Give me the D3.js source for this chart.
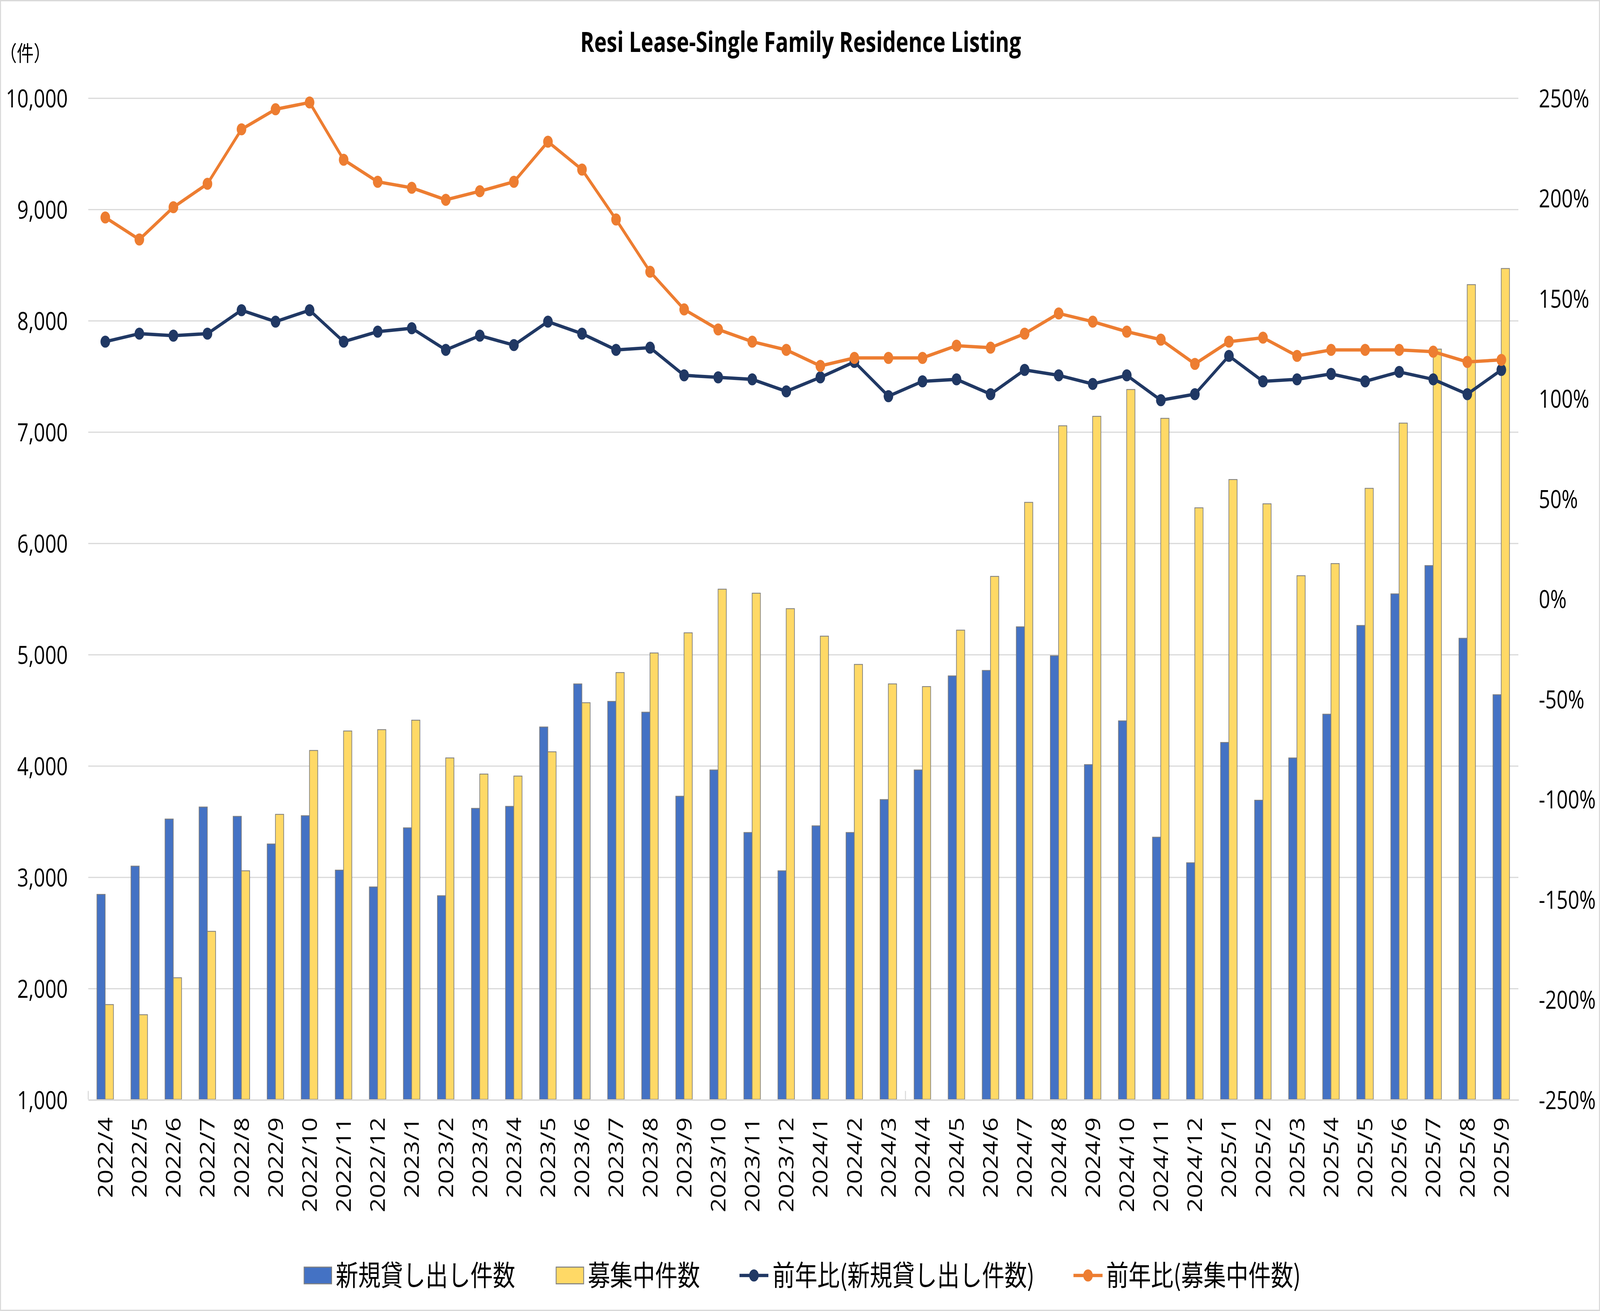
<!DOCTYPE html>
<html>
<head>
<meta charset="utf-8">
<title>Resi Lease-Single Family Residence Listing</title>
<script src="https://cdn.jsdelivr.net/npm/d3@7"></script>
<style>
html, body { margin: 0; padding: 0; background: #fff; overflow: hidden; }
svg { display: block; width: 100vw; height: 100vh; }
</style>
</head>
<body>
<script>
// 月 (2022/4 - 2025/9)
var months = ["2022/4","2022/5","2022/6","2022/7","2022/8","2022/9","2022/10","2022/11","2022/12",
  "2023/1","2023/2","2023/3","2023/4","2023/5","2023/6","2023/7","2023/8","2023/9","2023/10","2023/11","2023/12",
  "2024/1","2024/2","2024/3","2024/4","2024/5","2024/6","2024/7","2024/8","2024/9","2024/10","2024/11","2024/12",
  "2025/1","2025/2","2025/3","2025/4","2025/5","2025/6","2025/7","2025/8","2025/9"];

// 新規貸し出し件数 (左軸)
var newLeases = [2842,3096,3519,3627,3543,3295,3549,3060,2909,
  3440,2830,3615,3633,4346,4733,4576,4479,3724,3960,3398,3054,
  3458,3398,3694,3960,4805,4854,5246,4986,4008,4401,3356,3126,
  4207,3688,4068,4461,5258,5542,5796,5143,4636];

// 募集中件数 (左軸)
var listings = [1852,1761,2093,2510,3054,3561,4135,4310,4322,
  4407,4068,3923,3905,4123,4564,4835,5011,5192,5584,5548,5409,
  5162,4908,4733,4709,5216,5699,6364,7052,7137,7378,7119,6315,
  6569,6351,5705,5814,6490,7076,7741,8320,8465];

// 前年比(新規貸し出し件数) % (右軸)
var newLeasesYoY = [128.2,132.2,131.2,132.2,143.9,138.2,143.9,128.2,133.2,
  134.9,124.1,131.2,126.5,138.2,132.2,124.1,125.2,111.4,110.4,109.4,103.4,
  110.4,118.1,101.0,108.4,109.4,102.0,114.1,111.4,107.1,111.4,99.0,102.0,
  121.1,108.4,109.4,112.1,108.4,113.1,109.4,102.0,114.1];

// 前年比(募集中件数) % (右軸)
var listingsYoY = [190.2,179.2,195.3,207.0,234.2,244.2,247.6,219.0,208.0,
  205.0,199.0,203.3,208.0,228.0,214.1,189.2,163.1,144.3,134.3,128.2,124.1,
  116.1,120.1,120.1,120.1,126.2,125.2,132.2,142.3,138.2,133.2,129.2,117.1,
  128.2,130.2,121.1,124.1,124.1,124.1,123.2,118.1,119.1];

var leftTicks = [1000,2000,3000,4000,5000,6000,7000,8000,9000,10000];
var rightTicks = [-250,-200,-150,-100,-50,0,50,100,150,200,250];
var legendLabels = ["新規貸し出し件数","募集中件数","前年比(新規貸し出し件数)","前年比(募集中件数)"];

// 座標系は参照画像の縮小版 (1568幅) で組んで viewBox で拡大
var W = 1568, H = 1021.7;
var pLeft = 86.5, pRight = 1488, pTop = 76.1, pBottom = 856.8;
var latin = "'Open Sans', 'Noto Sans', sans-serif";
var cjk = "'Noto Sans CJK JP', 'Noto Sans', sans-serif";

var svg = d3.select("body").append("svg")
  .attr("viewBox", "0 0 " + W + " " + H)
  .attr("preserveAspectRatio", "none");

svg.append("rect").attr("x", 0.5).attr("y", 0.5).attr("width", W - 1).attr("height", H - 1)
  .attr("fill", "#fff").attr("stroke", "#d9d9d9").attr("stroke-width", 1);

// scales
var x = d3.scaleBand().domain(months).range([pLeft, pRight]).padding(0);
var inner = d3.scaleBand().domain(["a","b"]).range([-8.2, 8]);
var yL = d3.scaleLinear().domain([1000, 10000]).range([pBottom, pTop]);
var yR = d3.scaleLinear().domain([-250, 250]).range([pBottom, pTop]);
function cx(m){ return x(m) + x.bandwidth() / 2; }

// gridlines + left axis
var gL = svg.append("g").attr("transform", "translate(" + pLeft + ",0)")
  .call(d3.axisLeft(yL).tickValues(leftTicks).tickSize(-(pRight - pLeft)).tickPadding(20)
    .tickFormat(d3.format(",")));
gL.select(".domain").remove();
gL.selectAll(".tick line").attr("stroke", "#d9d9d9").attr("stroke-width", 0.9);
gL.selectAll(".tick text").attr("font-family", latin).attr("font-size", 19.5).attr("fill", "#000")
  .attr("dy", "0.36em");

// right axis
var gR = svg.append("g").attr("transform", "translate(" + pRight + ",0)")
  .call(d3.axisRight(yR).tickValues(rightTicks).tickSize(0).tickPadding(20)
    .tickFormat(function(d){ return d + "%"; }));
gR.select(".domain").remove();
gR.selectAll(".tick text").attr("font-family", latin).attr("font-size", 19.5).attr("fill", "#000")
  .attr("dy", "0.36em");

// bars
var bars = svg.append("g");
bars.selectAll("rect.nl").data(months).enter().append("rect")
  .attr("x", function(m){ return cx(m) + inner("a"); })
  .attr("width", inner.bandwidth())
  .attr("y", function(m, i){ return yL(newLeases[i]); })
  .attr("height", function(m, i){ return yL(1000) - yL(newLeases[i]); })
  .attr("fill", "#4472c4").attr("stroke", "#7f7f7f").attr("stroke-width", 0.65);
bars.selectAll("rect.ls").data(months).enter().append("rect")
  .attr("x", function(m){ return cx(m) + inner("b"); })
  .attr("width", inner.bandwidth())
  .attr("y", function(m, i){ return yL(listings[i]); })
  .attr("height", function(m, i){ return yL(1000) - yL(listings[i]); })
  .attr("fill", "#ffd966").attr("stroke", "#7f7f7f").attr("stroke-width", 0.65);

// bottom axis line and tick marks
var gX = svg.append("g").attr("transform", "translate(0," + pBottom + ")")
  .call(d3.axisBottom(x).tickSize(0).tickPadding(14));
gX.select(".domain").attr("stroke", "#d9d9d9").attr("stroke-width", 1.1);
gX.selectAll(".tick text")
  .attr("font-family", latin).attr("font-size", 19.5).attr("fill", "#000")
  .attr("text-anchor", "end").attr("dy", "0.36em")
  .attr("transform", "translate(0,14) rotate(-90)").attr("y", 0).attr("x", 0);
[months[0], months[24]].forEach(function(m){
  gX.append("line").attr("x1", x(m)).attr("x2", x(m)).attr("y1", 0).attr("y2", -6.6)
    .attr("stroke", "#d9d9d9").attr("stroke-width", 1);
});

// lines
var series = [
  { vals: newLeasesYoY, color: "#203864" },
  { vals: listingsYoY, color: "#ed7d31" }
];
series.forEach(function(s){
  var pts = months.map(function(m, i){ return [cx(m), yR(s.vals[i])]; });
  svg.append("path").attr("d", d3.line()(pts)).attr("fill", "none")
    .attr("stroke", s.color).attr("stroke-width", 2.6).attr("stroke-linejoin", "round");
  svg.append("g").selectAll("circle").data(pts).enter().append("circle")
    .attr("cx", function(p){ return p[0]; }).attr("cy", function(p){ return p[1]; })
    .attr("r", 4.7).attr("fill", s.color);
});

// title
svg.append("text").attr("x", 784.7).attr("y", 40.4).attr("text-anchor", "middle")
  .attr("font-family", latin).attr("font-weight", "bold").attr("font-size", 22)
  .attr("textLength", 432).attr("lengthAdjust", "spacingAndGlyphs")
  .text("Resi Lease-Single Family Residence Listing");

// unit
svg.append("text").attr("x", 0).attr("y", 47.5)
  .attr("font-family", cjk).attr("font-size", 16.5).text("（件）");

// legend
var ly = 994;
var lg = svg.append("g");
lg.append("rect").attr("x", 298).attr("y", ly - 6.5).attr("width", 27).attr("height", 13)
  .attr("fill", "#4472c4").attr("stroke", "#7f7f7f").attr("stroke-width", 0.8);
lg.append("rect").attr("x", 545).attr("y", ly - 6.5).attr("width", 27).attr("height", 13)
  .attr("fill", "#ffd966").attr("stroke", "#7f7f7f").attr("stroke-width", 0.8);
[[724.7, 753, "#203864"], [1052, 1080.5, "#ed7d31"]].forEach(function(d){
  lg.append("line").attr("x1", d[0]).attr("x2", d[1]).attr("y1", ly).attr("y2", ly)
    .attr("stroke", d[2]).attr("stroke-width", 2.6);
  lg.append("circle").attr("cx", (d[0] + d[1]) / 2).attr("cy", ly).attr("r", 4.7).attr("fill", d[2]);
});
[329, 576, 757, 1084].forEach(function(lx, i){
  lg.append("text").attr("x", lx).attr("y", ly).attr("dy", "0.36em")
    .attr("font-family", cjk).attr("font-size", 22).attr("fill", "#000")
    .text(legendLabels[i]);
});
</script>
</body>
</html>
